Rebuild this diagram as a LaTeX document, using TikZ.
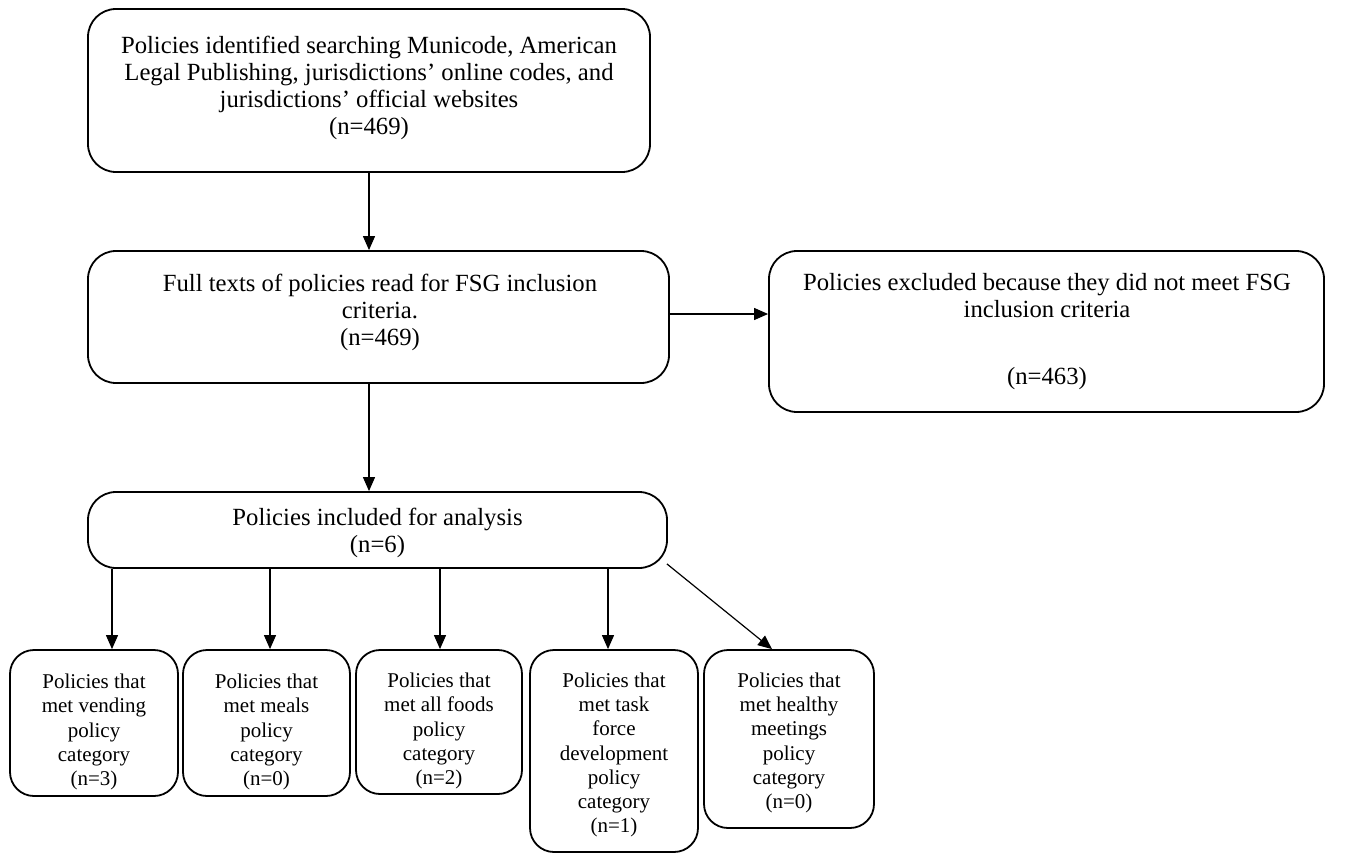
\documentclass[tikz,border=0pt]{standalone}
\usepackage{fontspec}
\setmainfont{Liberation Serif}
\usetikzlibrary{arrows.meta,calc}
\begin{document}
\begin{tikzpicture}[x=1pt,y=-1pt,
  box/.style={draw, line width=1.8pt, rounded corners=28pt, inner sep=0pt},
  sbox/.style={draw, line width=1.8pt, rounded corners=24pt, inner sep=0pt},
  big/.style={font=\fontsize{24.7}{27}\selectfont, align=center, inner sep=0pt},
  small/.style={font=\fontsize{21}{24.3}\selectfont, align=center, inner sep=0pt},
  arr/.style={-{Triangle[length=14pt,width=12pt]}, line width=1.2pt}]
\useasboundingbox (0,0) rectangle (1358,854);
% boxes
\node[box, minimum width=562pt, minimum height=163pt] (top) at (369,90.5) {};
\node[box, minimum width=581pt, minimum height=132pt] (mid) at (378.5,317) {};
\node[box, minimum width=555pt, minimum height=161pt] (excl) at (1046.5,331.5) {};
\node[box, minimum width=579pt, minimum height=76pt] (incl) at (377.5,530) {};
\node[sbox, minimum width=168pt, minimum height=146pt] (b1) at (94,723) {};
\node[sbox, minimum width=167pt, minimum height=146pt] (b2) at (266.5,723) {};
\node[sbox, minimum width=166pt, minimum height=144pt] (b3) at (439,722) {};
\node[sbox, minimum width=168pt, minimum height=202pt] (b4) at (614,751) {};
\node[sbox, minimum width=170pt, minimum height=178pt] (b5) at (789,739) {};
% texts
\node[big] (ttop) at (369,87.5) {Policies identified searching Municode, American\\Legal Publishing, jurisdictions’ online codes, and\\jurisdictions’ official websites\\(n=469)};
\node[big] (tmid) at (380,312) {Full texts of policies read for FSG inclusion\\criteria.\\(n=469)};
\node[big] (texcl) at (1047,332) {Policies excluded because they did not meet FSG\\inclusion criteria\\[40pt](n=463)};
\node[big] (tincl) at (377.5,533) {Policies included for analysis\\(n=6)};
\node[small] (tb1) at (94,732) {Policies that\\met vending\\policy\\category\\(n=3)};
\node[small] (tb2) at (266.5,732) {Policies that\\met meals\\policy\\category\\(n=0)};
\node[small] (tb3) at (439,731) {Policies that\\met all foods\\policy\\category\\(n=2)};
\node[small] (tb4) at (614,755) {Policies that\\met task\\force\\development\\policy\\category\\(n=1)};
\node[small] (tb5) at (789,743) {Policies that\\met healthy\\meetings\\policy\\category\\(n=0)};
% connectors
\draw[arr] (top.south) -- (top.south |- mid.north);
\draw[arr] (top.south |- mid.south) -- (top.south |- incl.north);
\draw[arr] ([yshift=3pt]mid.east) -- ([yshift=3pt]mid.east -| excl.west);
\coordinate (a1) at (112,0);
\coordinate (a2) at (270,0);
\coordinate (a3) at (440,0);
\coordinate (a4) at (608,0);
\coordinate (a5) at (772,0);
\draw[arr] (incl.south -| a1) -- (b1.north -| a1);
\draw[arr] (incl.south -| a2) -- (b2.north -| a2);
\draw[arr] (incl.south -| a3) -- (b3.north -| a3);
\draw[arr] (incl.south -| a4) -- (b4.north -| a4);
\draw[arr] ([shift={(-1,-5)}]incl.south east) -- (b5.north -| a5);
\end{tikzpicture}
\end{document}
